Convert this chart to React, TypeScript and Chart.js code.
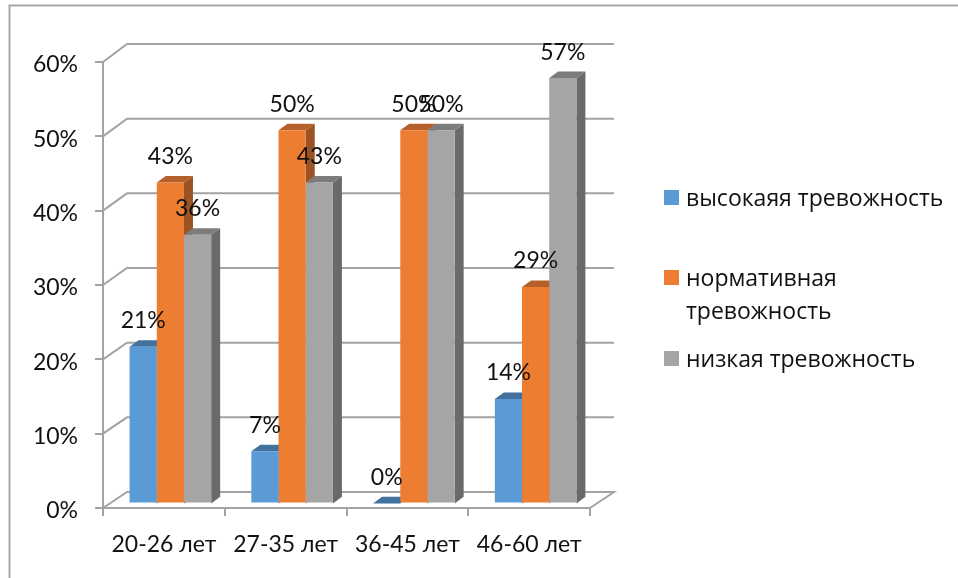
import React, { useEffect, useRef } from "react";
import { Chart, registerables } from "chart.js";

Chart.register(...registerables);

const categories = ["20-26 лет", "27-35 лет", "36-45 лет", "46-60 лет"];
const highAnxiety = [21, 7, 0, 14];
const normalAnxiety = [43, 50, 50, 29];
const lowAnxiety = [36, 43, 50, 57];
const seriesNames = ["высокаяя тревожность", "нормативная тревожность", "низкая тревожность"];
const legendLines = [["высокаяя тревожность"], ["нормативная", "тревожность"], ["низкая тревожность"]];
const frontColors = ["#5b9bd5", "#ed7d31", "#a5a5a5"];
const topColors = ["#41719c", "#b5602a", "#7c7c7c"];
const sideColors = ["#41719c", "#9c5324", "#6a6a6a"];

const AXIS_COLOR = "#a3a3a3";
const TEXT_COLOR = "#111111";
const AXIS_FONT = "Lato";
const LEGEND_FONT = "'Open Sans'";

// Depth of the box: how far the back wall and each bar's side reach.
const WALL_DX = 24;
const BAR_DX = 9;
const BAR_DY = 6.6;
// Bars stand a little inside the floor, on a slightly taller value scale.
const PLANE_DX = 6.5;
const PLANE_DY = -4.5;
const PLANE_SY = 1.004;
// Value labels sit slightly under the level of their tick marks.
const Y_LABEL_SHIFT = 3;

function wallY(y: number, value: number) {
  return y - 16 - (2 * value) / 60;
}

function applyBarPlane(ctx: CanvasRenderingContext2D, baseY: number) {
  ctx.translate(PLANE_DX, PLANE_DY + baseY);
  ctx.scale(1, PLANE_SY);
  ctx.translate(0, -baseY);
}

const boxPlugin = {
  id: "box3d",
  beforeDatasetsDraw(chart: any) {
    const { ctx, scales, chartArea } = chart;
    const yScale = scales.y;
    const baseY = yScale.getPixelForValue(0);
    ctx.save();
    // outer frame of the chart object
    ctx.strokeStyle = "#a8a8a8";
    ctx.lineWidth = 2;
    ctx.beginPath();
    ctx.moveTo(9.5, 578);
    ctx.lineTo(9.5, 5.5);
    ctx.lineTo(958, 5.5);
    ctx.stroke();

    // back wall grid lines and their links to the front axis
    ctx.strokeStyle = AXIS_COLOR;
    ctx.lineWidth = 2;
    yScale.ticks.forEach((t: any) => {
      const y = yScale.getPixelForValue(t.value);
      const by = wallY(y, t.value);
      ctx.beginPath();
      ctx.moveTo(chartArea.left, y);
      ctx.lineTo(chartArea.left + WALL_DX, by);
      ctx.lineTo(chartArea.right + WALL_DX, by);
      if (t.value === 0) ctx.lineTo(chartArea.right, y);
      ctx.stroke();
    });

    // top and side faces, first series to last; front faces are painted afterwards
    applyBarPlane(ctx, baseY);
    chart.data.datasets.forEach((_: any, i: number) => {
      chart.getDatasetMeta(i).data.forEach((bar: any) => {
        const { x, y, width } = bar.getProps(["x", "y", "width"], true);
        const l = x - width / 2;
        const r = x + width / 2;
        ctx.fillStyle = sideColors[i];
        ctx.beginPath();
        ctx.moveTo(r, y);
        ctx.lineTo(r + BAR_DX, y - BAR_DY);
        ctx.lineTo(r + BAR_DX, baseY - BAR_DY);
        ctx.lineTo(r, baseY);
        ctx.closePath();
        ctx.fill();
        ctx.fillStyle = topColors[i];
        ctx.beginPath();
        ctx.moveTo(l, y);
        ctx.lineTo(l + BAR_DX, y - BAR_DY);
        ctx.lineTo(r + BAR_DX, y - BAR_DY);
        ctx.lineTo(r, y);
        ctx.closePath();
        ctx.fill();
      });
    });
    ctx.restore();
  },
  beforeDatasetDraw(chart: any) {
    chart.ctx.save();
    applyBarPlane(chart.ctx, chart.scales.y.getPixelForValue(0));
  },
  afterDatasetDraw(chart: any) {
    chart.ctx.restore();
  },
  afterDatasetsDraw(chart: any) {
    const { ctx, scales } = chart;
    const baseY = scales.y.getPixelForValue(0);
    ctx.save();
    ctx.fillStyle = TEXT_COLOR;
    ctx.font = `23px ${AXIS_FONT}`;
    ctx.textAlign = "center";
    ctx.textBaseline = "middle";
    chart.data.datasets.forEach((ds: any, i: number) => {
      chart.getDatasetMeta(i).data.forEach((bar: any, j: number) => {
        const { x, y } = bar.getProps(["x", "y"], true);
        const py = baseY + PLANE_DY + (y - baseY) * PLANE_SY;
        ctx.fillText(`${ds.data[j]}%`, x + PLANE_DX, py - 26);
      });
    });

    // legend with its uneven rows and the wrapped second entry
    const rowY = [197.5, 277.5, 358.5];
    ctx.textAlign = "left";
    ctx.font = `23px ${LEGEND_FONT}`;
    legendLines.forEach((lines, i) => {
      ctx.fillStyle = frontColors[i];
      ctx.fillRect(664, rowY[i] - 7.5, 15, 15);
      ctx.fillStyle = TEXT_COLOR;
      lines.forEach((line, k) => ctx.fillText(line, 686, rowY[i] + 1.5 + k * 33.5));
    });
    ctx.restore();
  },
};

export default function App() {
  const ref = useRef<HTMLCanvasElement>(null);
  useEffect(() => {
    if (!ref.current) return;
    const series = [highAnxiety, normalAnxiety, lowAnxiety];
    const chart = new Chart(ref.current, {
      type: "bar",
      data: {
        labels: categories,
        datasets: series.map((data, i) => ({
          label: seriesNames[i],
          data,
          backgroundColor: frontColors[i],
          borderWidth: 0,
          clip: false as any,
          categoryPercentage: 0.67,
          barPercentage: 1,
        })),
      },
      options: {
        responsive: false,
        animation: false,
        layout: { padding: { left: 0, right: 368, top: 62, bottom: 0 } },
        plugins: { legend: { display: false }, title: { display: false }, tooltip: { enabled: false } },
        scales: {
          x: {
            grid: {
              offset: true,
              drawOnChartArea: false,
              color: AXIS_COLOR,
              lineWidth: 2,
              tickLength: 8,
            },
            border: { color: AXIS_COLOR, width: 2 },
            ticks: {
              color: TEXT_COLOR,
              font: { family: "Lato", size: 23 },
              padding: 15,
              maxRotation: 0,
            },
            afterFit(scale: any) {
              scale.height = 70;
            },
          },
          y: {
            min: 0,
            max: 60,
            grid: {
              drawOnChartArea: false,
              color: AXIS_COLOR,
              lineWidth: 2,
              tickLength: 8,
            },
            border: { color: AXIS_COLOR, width: 2 },
            ticks: {
              stepSize: 10,
              color: TEXT_COLOR,
              font: { family: "Lato", size: 23 },
              padding: 17,
              callback: (v: any) => `${v}%`,
            },
            afterFit(scale: any) {
              scale.width = 103;
              if (!scale.shiftedLabels) {
                scale.shiftedLabels = true;
                const drawLabels = scale.drawLabels;
                scale.drawLabels = function (area: any) {
                  scale.ctx.save();
                  scale.ctx.translate(0, Y_LABEL_SHIFT);
                  drawLabels.call(scale, area);
                  scale.ctx.restore();
                };
              }
            },
          },
        },
      },
      plugins: [boxPlugin],
    });
    return () => chart.destroy();
  }, []);
  return (
    <div style={{ position: "fixed", left: 0, top: 0, width: 958, height: 578, background: "#fff" }}>
      <canvas ref={ref} width={958} height={578} style={{ display: "block" }} />
    </div>
  );
}
